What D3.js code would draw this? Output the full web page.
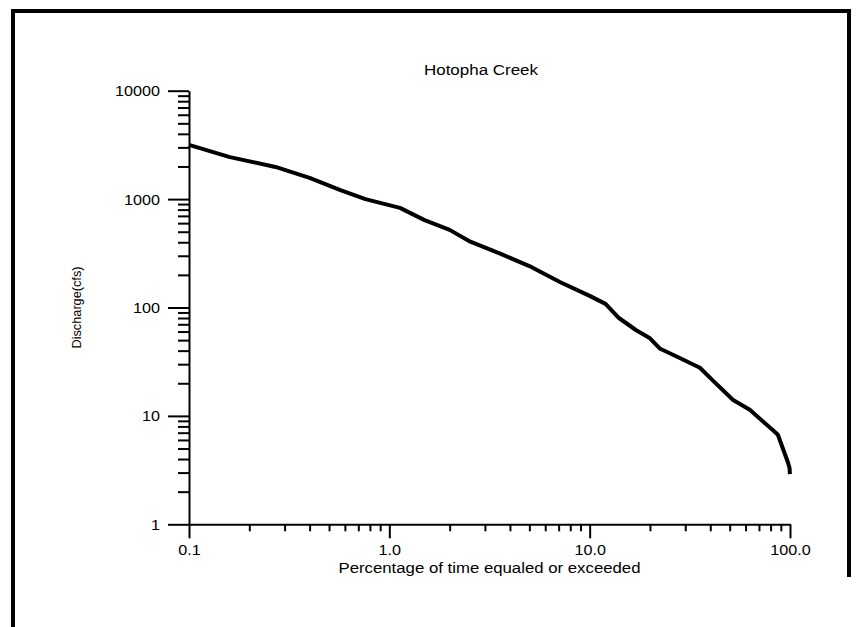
<!DOCTYPE html>
<html>
<head>
<meta charset="utf-8">
<script src="https://cdn.jsdelivr.net/npm/d3@7"></script>
<style>
  html, body { margin: 0; padding: 0; background: #fff; }
  svg text { font-family: "Liberation Sans", Arial, Helvetica, sans-serif; fill: #000; }
</style>
</head>
<body>
<svg id="chart" width="857" height="627"></svg>
<script>
// ---- data ----
const title = "Hotopha Creek";
const xLabel = "Percentage of time equaled or exceeded";
const yLabel = "Discharge(cfs)";
const percentExceeded = [0.1, 0.16, 0.27, 0.4, 0.57, 0.76, 1.13, 1.5, 2.0, 2.5, 3.6, 5.0, 7.1, 10, 12, 14, 17, 20, 22.5, 28, 35.5, 41, 52, 63, 82, 87, 97.8, 99.5, 99.9];
const discharge = [3160, 2440, 1980, 1570, 1210, 1000, 830, 640, 520, 410, 312, 241, 172, 128, 108, 80, 62, 52, 41.6, 34.4, 27.8, 21.4, 14, 11.4, 7.4, 6.7, 3.7, 3.3, 2.9];
const xTickValues = [0.1, 1, 10, 100];
const xTickLabels = ["0.1", "1.0", "10.0", "100.0"];
const yTickValues = [1, 10, 100, 1000, 10000];
const yTickLabels = ["1", "10", "100", "1000", "10000"];

const svg = d3.select("#chart");

// frame
svg.append("path")
  .attr("d", "M13,627 L13,11 L849,11 L849,577")
  .attr("fill", "none").attr("stroke", "#000").attr("stroke-width", 4);

const x = d3.scaleLog().domain([0.1, 100]).range([189, 790]);
const y = d3.scaleLog().domain([1, 10000]).range([524.3, 90.7]);

// stretched width of a label (the reference font is wider than Liberation Sans)
const labelWidth = s => s.split("").reduce((w, c) => w + (c === "." ? 4.5 : 9), 0);

// minor tick values
const minorX = [], minorY = [];
for (let d = 0.1; d < 100; d *= 10) for (let k = 2; k <= 9; k++) minorX.push(+(d * k).toPrecision(3));
for (let d = 1; d < 10000; d *= 10) for (let k = 2; k <= 9; k++) minorY.push(+(d * k).toPrecision(3));

// x axis
const gx = svg.append("g").attr("transform", `translate(0,${y(1)})`);
gx.call(d3.axisBottom(x).tickValues(minorX).tickSize(7).tickFormat(""));
gx.call(g => g.selectAll(".domain").remove());
const gx2 = svg.append("g").attr("transform", `translate(0,${y(1)})`);
gx2.call(d3.axisBottom(x).tickValues(xTickValues).tickSize(14).tickSizeOuter(0)
  .tickFormat((d, i) => xTickLabels[i]).tickPadding(10));
gx2.select(".domain").attr("stroke", "#000").attr("stroke-width", 2);
gx2.selectAll("text")
  .attr("font-size", 14).attr("font-family", "Liberation Sans, Arial, sans-serif")
  .attr("dy", 0).attr("y", 31).attr("fill", "#000")
  .attr("textLength", (d, i) => labelWidth(xTickLabels[i]))
  .attr("lengthAdjust", "spacingAndGlyphs");

// y axis
const gy = svg.append("g").attr("transform", `translate(${x(0.1)},0)`);
gy.call(d3.axisLeft(y).tickValues(minorY).tickSize(11).tickFormat(""));
gy.call(g => g.selectAll(".domain").remove());
const gy2 = svg.append("g").attr("transform", `translate(${x(0.1)},0)`);
gy2.call(d3.axisLeft(y).tickValues(yTickValues).tickSize(21).tickSizeOuter(0)
  .tickFormat((d, i) => yTickLabels[i]).tickPadding(8));
gy2.select(".domain").attr("stroke", "#000").attr("stroke-width", 2);
gy2.selectAll("text")
  .attr("font-size", 14).attr("font-family", "Liberation Sans, Arial, sans-serif")
  .attr("fill", "#000").attr("dy", "0.36em")
  .attr("textLength", (d, i) => labelWidth(yTickLabels[i]))
  .attr("lengthAdjust", "spacingAndGlyphs");
svg.selectAll(".tick line").attr("stroke", "#000").attr("stroke-width", 2);

// line
const line = d3.line()
  .x((d, i) => x(percentExceeded[i]))
  .y((d, i) => y(discharge[i]));
svg.append("path")
  .datum(discharge)
  .attr("d", line)
  .attr("fill", "none")
  .attr("stroke", "#000")
  .attr("stroke-width", 4)
  .attr("stroke-linejoin", "round");

// title
svg.append("text")
  .attr("x", 481)
  .attr("y", 75)
  .attr("text-anchor", "middle")
  .attr("font-size", 14)
  .attr("textLength", 114)
  .attr("lengthAdjust", "spacingAndGlyphs")
  .text(title);

// x label
svg.append("text")
  .attr("x", (x.range()[0] + x.range()[1]) / 2)
  .attr("y", 573)
  .attr("text-anchor", "middle")
  .attr("font-size", 14)
  .attr("textLength", 302)
  .attr("lengthAdjust", "spacingAndGlyphs")
  .text(xLabel);

// y label
svg.append("text")
  .attr("transform", `translate(81,${(y.range()[0] + y.range()[1]) / 2}) rotate(-90)`)
  .attr("text-anchor", "middle")
  .attr("font-size", 12)
  .attr("textLength", 82)
  .attr("lengthAdjust", "spacingAndGlyphs")
  .text(yLabel);
</script>
</body>
</html>
